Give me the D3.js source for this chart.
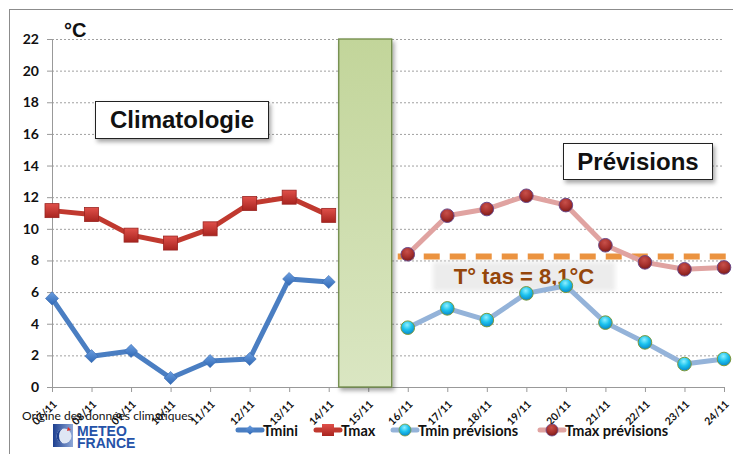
<!DOCTYPE html>
<html>
<head>
<meta charset="utf-8">
<script src="https://cdn.jsdelivr.net/npm/d3@7"></script>
<style>
  body { margin: 0; background: #fff; }
  svg { display: block; }
  .tick-y { font: bold 14px Lato, "Liberation Sans", sans-serif; fill: #111; }
  .tick-x { font: bold 10.5px Lato, "Liberation Sans", sans-serif; fill: #111; }
</style>
</head>
<body>
<svg id="chart" width="733" height="454"></svg>
<script>
const categories = ["07/11","08/11","09/11","10/11","11/11","12/11","13/11","14/11","15/11",
  "16/11","17/11","18/11","19/11","20/11","21/11","22/11","23/11","24/11"];
const climDates = ["07/11","08/11","09/11","10/11","11/11","12/11","13/11","14/11"];
const tmini = [5.6, 1.95, 2.28, 0.57, 1.64, 1.77, 6.83, 6.64];
const tmax = [11.15, 10.9, 9.6, 9.1, 10.0, 11.6, 12.0, 10.85];
const prevDates = ["16/11","17/11","18/11","19/11","20/11","21/11","22/11","23/11","24/11"];
const tminPrev = [3.75, 4.97, 4.23, 5.92, 6.4, 4.07, 2.82, 1.45, 1.77];
const tmaxPrev = [8.39, 10.83, 11.25, 12.09, 11.5, 8.96, 7.88, 7.44, 7.56];
const barDate = "15/11";
const barValue = 22;
const tasValue = 8.25;
const tasLabel = "T° tas = 8,1°C";
const yTicks = [0, 2, 4, 6, 8, 10, 12, 14, 16, 18, 20, 22];
const legendNames = ["Tmini", "Tmax", "Tmin prévisions", "Tmax prévisions"];

const svg = d3.select("#chart");
const x = d3.scalePoint().domain(categories).range([52, 724]);
const y = d3.scaleLinear().domain([0, 22]).range([387, 39]);

// defs
const defs = svg.append("defs");
const gBar = defs.append("linearGradient").attr("id", "gBar").attr("x1", 0).attr("y1", 0).attr("x2", 0).attr("y2", 1);
gBar.append("stop").attr("offset", "0%").attr("stop-color", "#c2d59a");
gBar.append("stop").attr("offset", "100%").attr("stop-color", "#dae6c2");
const gSq = defs.append("linearGradient").attr("id", "gSq").attr("x1", 0).attr("y1", 0).attr("x2", 0).attr("y2", 1);
gSq.append("stop").attr("offset", "0%").attr("stop-color", "#e0504a");
gSq.append("stop").attr("offset", "100%").attr("stop-color", "#a8241f");
const gDia = defs.append("linearGradient").attr("id", "gDia").attr("x1", 0).attr("y1", 0).attr("x2", 0).attr("y2", 1);
gDia.append("stop").attr("offset", "0%").attr("stop-color", "#6b9ee0");
gDia.append("stop").attr("offset", "100%").attr("stop-color", "#2f68b5");
const gCyan = defs.append("radialGradient").attr("id", "gCyan").attr("cx", "45%").attr("cy", "30%").attr("r", "70%");
gCyan.append("stop").attr("offset", "0%").attr("stop-color", "#8ff0ff");
gCyan.append("stop").attr("offset", "50%").attr("stop-color", "#1cc3ee");
gCyan.append("stop").attr("offset", "100%").attr("stop-color", "#0a86c8");
const gRed = defs.append("radialGradient").attr("id", "gRed").attr("cx", "45%").attr("cy", "30%").attr("r", "70%");
gRed.append("stop").attr("offset", "0%").attr("stop-color", "#c8504a");
gRed.append("stop").attr("offset", "60%").attr("stop-color", "#a5302c");
gRed.append("stop").attr("offset", "100%").attr("stop-color", "#7a1c1a");
const gLogo = defs.append("linearGradient").attr("id", "gLogo").attr("x1", 0).attr("y1", 0).attr("x2", 1).attr("y2", 0);
gLogo.append("stop").attr("offset", "0%").attr("stop-color", "#1d3f8f");
gLogo.append("stop").attr("offset", "100%").attr("stop-color", "#8fa8d8");
const shadow = defs.append("filter").attr("id", "shadow").attr("x", "-10%").attr("y", "-10%").attr("width", "130%").attr("height", "140%");
shadow.append("feDropShadow").attr("dx", 2).attr("dy", 3).attr("stdDeviation", 2).attr("flood-color", "#000").attr("flood-opacity", 0.35);
const blur = defs.append("filter").attr("id", "blur");
blur.append("feGaussianBlur").attr("stdDeviation", 2);

// outer frame
svg.append("rect").attr("x", 9.5).attr("y", 9.5).attr("width", 760).attr("height", 500)
  .attr("fill", "none").attr("stroke", "#8c8c8c");

// gridlines
svg.append("g").selectAll("line").data(yTicks.filter(d => d > 0)).join("line")
  .attr("x1", x.range()[0]).attr("x2", x.range()[1])
  .attr("y1", d => y(d) + 0.5).attr("y2", d => y(d) + 0.5)
  .attr("stroke", "#a0a0a0").attr("stroke-width", 1).attr("stroke-dasharray", "2,2");

// axes
const yAxis = svg.append("g").attr("transform", `translate(${x.range()[0]},0)`)
  .call(d3.axisLeft(y).tickValues(yTicks).tickSize(5).tickPadding(8));
yAxis.select(".domain").attr("stroke", "#999");
yAxis.selectAll(".tick line").attr("stroke", "#999");
yAxis.selectAll(".tick text").attr("class", "tick-y");

const xAxis = svg.append("g").attr("transform", `translate(0,${y(0)})`)
  .call(d3.axisBottom(x).tickSize(5).tickSizeOuter(0));
xAxis.select(".domain").attr("stroke", "#999");
xAxis.selectAll(".tick line").attr("stroke", "#999");
xAxis.selectAll(".tick text").attr("class", "tick-x")
  .attr("text-anchor", "end").attr("dy", 0).attr("y", 0)
  .attr("transform", "translate(5,18) rotate(-45)");

// green bar for 15/11
const barW = 53;
svg.append("rect")
  .attr("x", x(barDate) - barW / 2 - 3).attr("y", y(barValue))
  .attr("width", barW).attr("height", y(0) - y(barValue))
  .attr("fill", "url(#gBar)").attr("stroke", "#6f8a47").attr("stroke-width", 1.3)
  .attr("filter", "url(#shadow)");

// "°C"
svg.append("text").attr("x", 64).attr("y", 37).text("°C")
  .style("font", "bold 20px 'Liberation Sans', Arial, sans-serif").attr("fill", "#111");

// title boxes
function labelBox(x0, y0, w, h, txt) {
  svg.append("rect").attr("x", x0).attr("y", y0).attr("width", w).attr("height", h)
    .attr("fill", "#fff").attr("stroke", "#222").attr("stroke-width", 1).attr("filter", "url(#shadow)");
  svg.append("text").attr("x", x0 + w / 2).attr("y", y0 + h / 2 + 8).attr("text-anchor", "middle")
    .style("font", "bold 24px 'Liberation Sans', Arial, sans-serif").attr("fill", "#111").text(txt);
}
labelBox(95.5, 101.5, 173, 37, "Climatologie");
labelBox(563.5, 143.5, 149, 36, "Prévisions");

// tas label background + text
svg.append("rect").attr("x", 433).attr("y", 262).attr("width", 182).attr("height", 29)
  .attr("fill", "#e6e6e6").attr("opacity", 0.75).attr("filter", "url(#blur)");
svg.append("text").attr("x", 524).attr("y", 284).attr("text-anchor", "middle")
  .style("font", "bold 22px 'Liberation Sans', Arial, sans-serif").attr("fill", "#94460a")
  .text(tasLabel);

// tas dashed line
svg.append("line").attr("x1", x(barDate) + barW / 2 + 3).attr("x2", 733)
  .attr("y1", y(tasValue)).attr("y2", y(tasValue))
  .attr("stroke", "#e8811f").attr("stroke-width", 6).attr("stroke-dasharray", "16,10")
  .attr("opacity", 0.85);

const line = d3.line().x(d => x(d[0])).y(d => y(d[1]));

function series(dates, vals, color, width) {
  const pts = dates.map((d, i) => [d, vals[i]]);
  svg.append("path").datum(pts).attr("d", line).attr("fill", "none")
    .attr("stroke", color).attr("stroke-width", width).attr("stroke-linejoin", "round");
  return pts;
}

// Tmax prévisions
const pMaxP = series(prevDates, tmaxPrev, "#e0a3a1", 5);
svg.append("g").selectAll("circle").data(pMaxP).join("circle")
  .attr("cx", d => x(d[0])).attr("cy", d => y(d[1])).attr("r", 6.8)
  .attr("fill", "url(#gRed)").attr("stroke", "#6c4a8a").attr("stroke-width", 1);

// Tmin prévisions
const pMinP = series(prevDates, tminPrev, "#94b3d9", 5);
svg.append("g").selectAll("circle").data(pMinP).join("circle")
  .attr("cx", d => x(d[0])).attr("cy", d => y(d[1])).attr("r", 6.8)
  .attr("fill", "url(#gCyan)").attr("stroke", "#7e9a3c").attr("stroke-width", 1);

// Tmax
const pMax = series(climDates, tmax, "#c0392f", 5);
svg.append("g").selectAll("rect").data(pMax).join("rect")
  .attr("x", d => x(d[0]) - 7).attr("y", d => y(d[1]) - 7).attr("width", 14).attr("height", 14)
  .attr("fill", "url(#gSq)").attr("stroke", "#9a2320").attr("stroke-width", 0.8);

// Tmini
const pMin = series(climDates, tmini, "#4a7ec2", 5);
svg.append("g").selectAll("path.dia").data(pMin).join("path").attr("class", "dia")
  .attr("d", d3.symbol().type(d3.symbolDiamond2).size(110))
  .attr("transform", d => `translate(${x(d[0])},${y(d[1])})`)
  .attr("fill", "url(#gDia)").attr("stroke", "#3a6cb0").attr("stroke-width", 0.6);

// legend
const legX = [238, 316, 393, 540];
const leg = svg.append("g").attr("transform", "translate(0,430)");
legendNames.forEach((name, i) => {
  const g = leg.append("g").attr("transform", `translate(${legX[i]},0)`);
  const colors = ["#4a7ec2", "#c0392f", "#94b3d9", "#e0a3a1"];
  g.append("line").attr("x1", 0).attr("x2", 24).attr("y1", 0).attr("y2", 0)
    .attr("stroke", colors[i]).attr("stroke-width", 5).attr("stroke-linecap", "round");
  if (i === 0) {
    g.append("path").attr("d", d3.symbol().type(d3.symbolDiamond2).size(60)).attr("transform", "translate(12,0)")
      .attr("fill", "url(#gDia)");
  } else if (i === 1) {
    g.append("rect").attr("x", 6).attr("y", -6).attr("width", 12).attr("height", 12).attr("fill", "url(#gSq)");
  } else {
    g.append("circle").attr("cx", 12).attr("cy", 0).attr("r", 6)
      .attr("fill", i === 2 ? "url(#gCyan)" : "url(#gRed)")
      .attr("stroke", i === 2 ? "#7e9a3c" : "#6c4a8a").attr("stroke-width", 0.8);
  }
  g.append("text").attr("x", 25).attr("y", 5.5).text(name)
    .style("font", "bold 14.5px Lato, 'Liberation Sans', sans-serif").attr("fill", "#111");
});

// source note + logo
svg.append("text").attr("x", 22).attr("y", 420).text("Origine des données climatiques")
  .style("font", "12px Lato, 'Liberation Sans', sans-serif").attr("fill", "#111");
const logo = svg.append("g").attr("transform", "translate(53,424)");
logo.append("rect").attr("width", 20).attr("height", 23).attr("fill", "url(#gLogo)");
logo.append("circle").attr("cx", 11).attr("cy", 12).attr("r", 7.5).attr("fill", "#dfe6f4");
logo.append("path").attr("d", "M11,4.5 A7.5,7.5 0 0,0 11,19.5 A5,7.5 0 0,1 11,4.5Z").attr("fill", "#1d3f8f");
logo.append("path").attr("d", "M15,3 L18,6 L14,7Z").attr("fill", "#e0302a");
logo.append("text").attr("x", 24).attr("y", 11.5).text("METEO")
  .style("font", "bold 14px 'Liberation Sans Narrow', 'Liberation Sans', sans-serif").attr("fill", "#2552a8");
logo.append("text").attr("x", 24).attr("y", 23.5).text("FRANCE")
  .style("font", "bold 14px 'Liberation Sans Narrow', 'Liberation Sans', sans-serif").attr("fill", "#2552a8");
</script>
</body>
</html>
